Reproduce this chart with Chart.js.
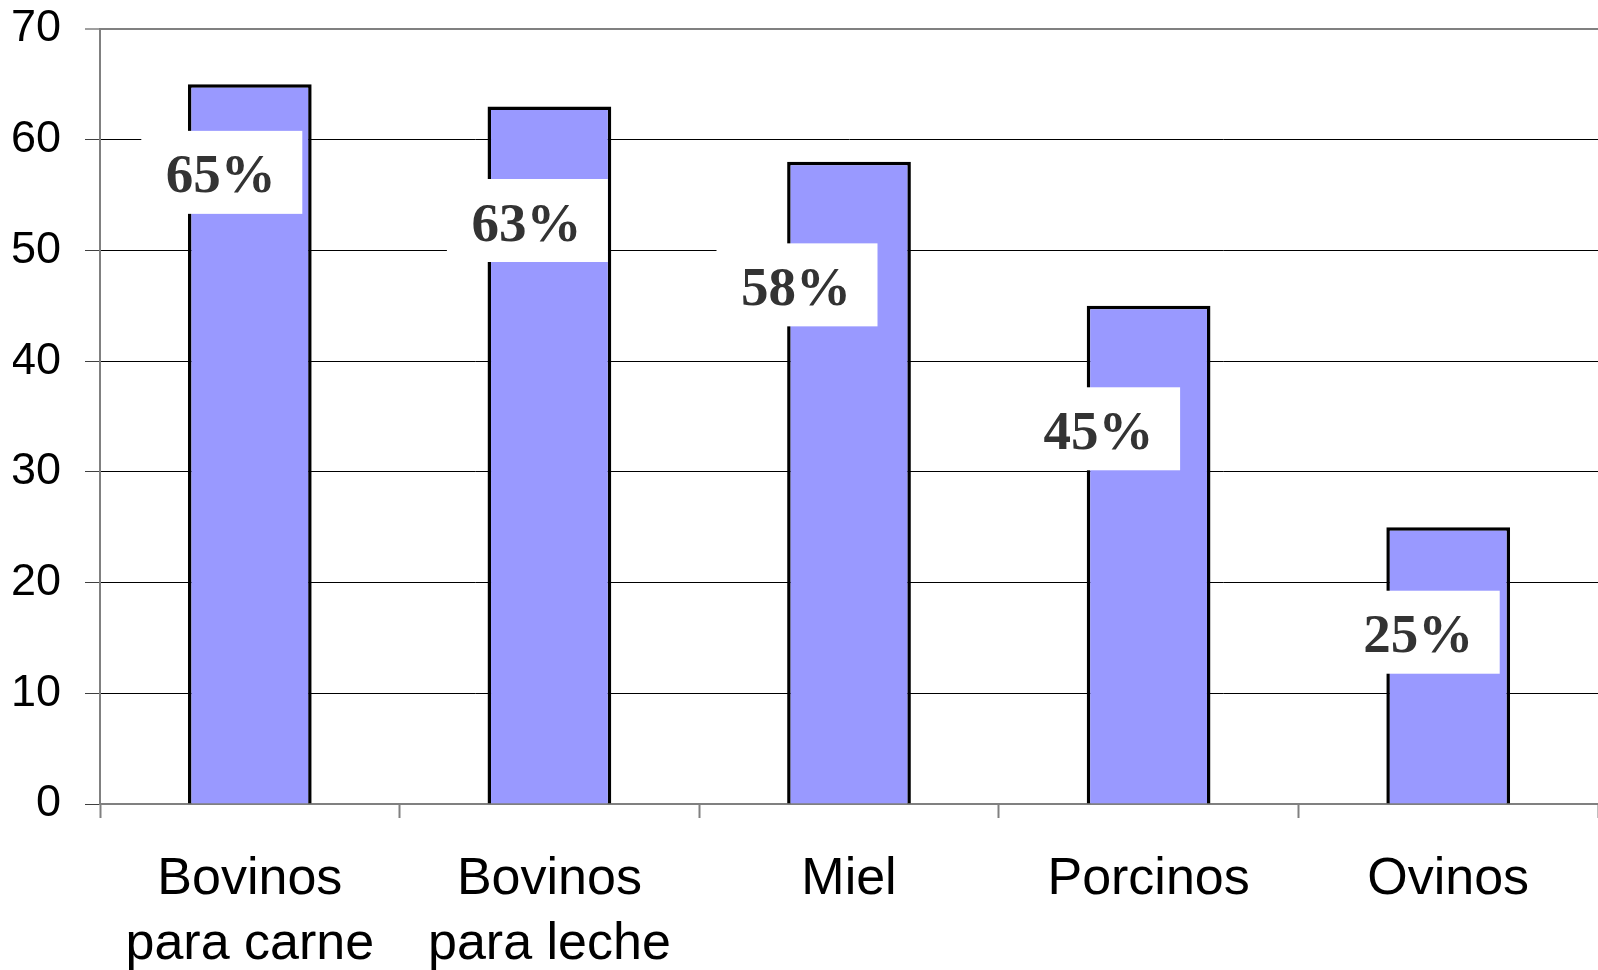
<!DOCTYPE html>
<html>
<head>
<meta charset="utf-8">
<script src="https://cdn.jsdelivr.net/npm/chart.js@4"></script>
<style>
  html, body { margin: 0; padding: 0; background: #fff; }
  #wrap { width: 1598px; height: 970px; }
</style>
</head>
<body>
<div id="wrap"><canvas id="grafico" width="1598" height="970"></canvas></div>
<script>
// datos
const categorias = [['Bovinos', 'para carne'], ['Bovinos', 'para leche'], 'Miel', 'Porcinos', 'Ovinos'];
const porcentajes = [65, 63, 58, 45, 25];
const ticksY = [0, 10, 20, 30, 40, 50, 60, 70];

// etiquetas en cajas blancas (como en Excel)
const etiquetasPlugin = {
  id: 'etiquetas',
  afterDatasetsDraw(chart, args, opts) {
    const ctx = chart.ctx;
    const meta = chart.getDatasetMeta(0);
    ctx.save();
    ctx.font = 'bold 55px "Liberation Serif", "Times New Roman", serif';
    ctx.textAlign = 'center';
    ctx.textBaseline = 'alphabetic';
    meta.data.forEach((bar, i) => {
      const cx = bar.x + opts.dx[i];
      const cy = bar.y + opts.dy[i];
      ctx.fillStyle = '#ffffff';
      ctx.fillRect(cx - 80.5, cy - 41.5, 161, 83);
      ctx.fillStyle = '#333333';
      ctx.fillText(porcentajes[i] + '%', cx - 1, cy + 20);
    });
    ctx.restore();
  }
};

// tamaños fijos de los ejes para que el área de trazado quede como en el original
function sinPadding(axis) {
  axis.paddingLeft = 0;
  axis.paddingRight = 0;
  axis.paddingTop = 0;
  axis.paddingBottom = 0;
}

const ctx = document.getElementById('grafico').getContext('2d');
new Chart(ctx, {
  type: 'bar',
  data: {
    labels: categorias,
    datasets: [{
      data: porcentajes,
      backgroundColor: '#9999ff',
      borderColor: '#000000',
      borderWidth: 3.5,
      barPercentage: 0.413,
      categoryPercentage: 1
    }]
  },
  options: {
    responsive: false,
    animation: false,
    layout: { padding: { top: 29, left: 13, right: -5, bottom: 0 } },
    plugins: {
      legend: { display: false },
      tooltip: { enabled: false },
      etiquetas: {
        dx: [-28, -22, -52, -49, -29],
        dy: [88, 114, 123, 123, 105]
      }
    },
    scales: {
      x: {
        offset: true,
        afterFit(axis) { axis.height = 166; sinPadding(axis); },
        grid: {
          offset: true,
          drawOnChartArea: false,
          drawTicks: true,
          tickLength: 14,
          tickColor: '#808080',
          tickWidth: 2
        },
        border: { color: '#808080', width: 2 },
        ticks: {
          color: '#000',
          padding: 29,
          maxRotation: 0,
          autoSkip: false,
          font: { family: '"Liberation Sans", Arial, sans-serif', size: 52, lineHeight: 1.25 }
        }
      },
      y: {
        min: 0,
        max: 70,
        afterBuildTicks(axis) { axis.ticks = ticksY.map(v => ({ value: v })); },
        afterFit(axis) { axis.width = 87; sinPadding(axis); },
        grid: {
          color: c => c.tick && c.tick.value === 70 ? '#808080' : '#000000',
          lineWidth: c => c.tick && c.tick.value === 70 ? 2 : 1,
          tickLength: 15,
          tickColor: '#404040',
          tickWidth: 1
        },
        border: { color: '#808080', width: 2 },
        ticks: {
          color: '#000',
          padding: 24,
          font: { family: '"Liberation Sans", Arial, sans-serif', size: 45 }
        }
      }
    }
  },
  plugins: [etiquetasPlugin]
});
</script>
</body>
</html>
